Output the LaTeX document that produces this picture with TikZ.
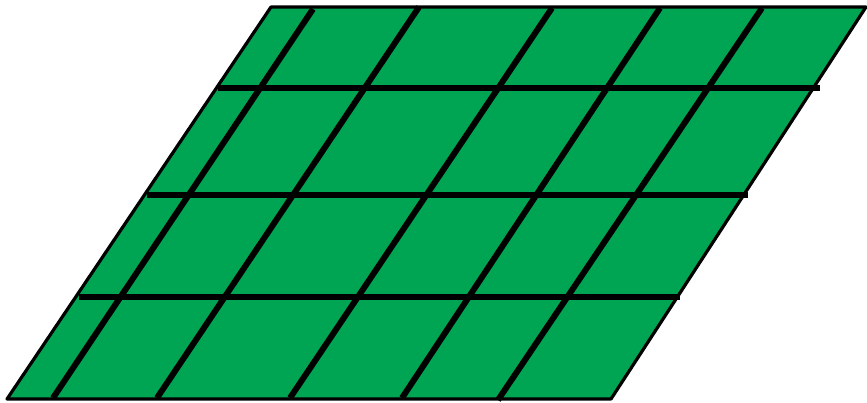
\documentclass[tikz,border=0pt]{standalone}
\definecolor{leaf}{RGB}{0,165,83}
\tikzset{
  outline/.style={draw=black, line width=3.2pt, fill=leaf, line join=round},
  gridline/.style={draw=black, line width=6pt}
}
\begin{document}
\begin{tikzpicture}[x=1pt,y=-1pt]
\useasboundingbox (0,0) rectangle (867,403);
% parallelogram
\draw[outline] (271,7) -- (866,7) -- (611,399) -- (7,399) -- cycle;
% horizontal lines
\draw[gridline] (218,88) -- (820,88);
\draw[gridline] (147,195) -- (748,195);
\draw[gridline] (79,297) -- (680,297);
% slanted lines
\draw[gridline] (313,9) -- (53,398);
\draw[gridline] (419,7) -- (157,398);
\draw[gridline] (552,8) -- (290,398);
\draw[gridline] (660,8) -- (402,398);
\draw[gridline] (762,8) -- (498,400);
\end{tikzpicture}
\end{document}
